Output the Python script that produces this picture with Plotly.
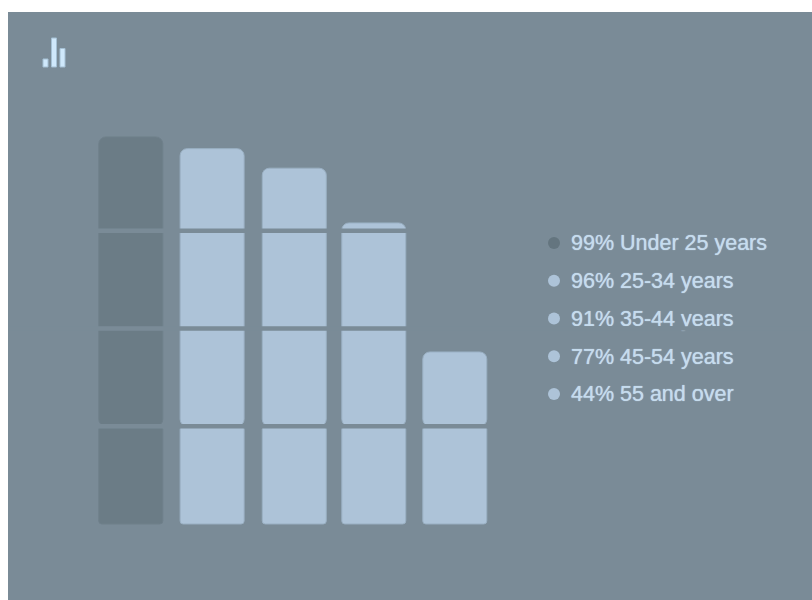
import plotly.graph_objects as go

# Share of respondents by age group
age_groups = ["Under 25 years", "25-34 years", "35-44 years", "45-54 years", "55 and over"]
percentages = [99, 96, 91, 77, 44]
band_edges = [25, 50, 75]

PANEL = "#7a8b97"
BAR_LIGHT = "#adc3d8"
BAR_DARK = "#6b7c86"
EDGE_LIGHT = "#9ab0c3"
EDGE_DARK = "#6f808b"
TEXT = "#c6dcee"
ICON = "#cfe8fb"

bar_colors = [BAR_DARK] + [BAR_LIGHT] * 4
edge_colors = [EDGE_DARK] + [EDGE_LIGHT] * 4
dot_colors = ["#64757f"] + [BAR_LIGHT] * 4
labels = [f"{p}% {g}" for p, g in zip(percentages, age_groups)]

WIDTH, HEIGHT = 812, 600
BAR_WIDTH = 0.79
# Slight per-column nudge, in category units
nudges = [0.004, 0.008, 0.022, 0.004, 0.004]
bar_offsets = [n - BAR_WIDTH / 2 for n in nudges]

fig = go.Figure()

# Each column is two overlaid pieces so that both ends get their own rounding
pivot = band_edges[0]
fig.add_bar(
    x=age_groups, base=[pivot] * 5, y=[p - pivot for p in percentages],
    marker=dict(color=bar_colors, line=dict(color=edge_colors, width=1), cornerradius=7),
    width=BAR_WIDTH, offset=bar_offsets, hoverinfo="skip", showlegend=False,
)
fig.add_bar(
    x=age_groups, base=[pivot] * 5, y=[-pivot] * 5,
    marker=dict(color=bar_colors, line=dict(color=edge_colors, width=1), cornerradius=3),
    width=BAR_WIDTH, offset=bar_offsets, hoverinfo="skip", showlegend=False,
)

# Key on its own overlaid axes, one row per group
rows = list(range(len(labels)))
fig.add_scatter(
    x=[0] * 5, y=rows, xaxis="x2", yaxis="y2", mode="markers",
    marker=dict(size=12, color=dot_colors), hoverinfo="skip", showlegend=False,
)
fig.add_scatter(
    x=[17] * 5, y=[r + 0.05 for r in rows], xaxis="x2", yaxis="y2", mode="text", text=labels,
    textposition="middle right",
    textfont=dict(family="Liberation Sans", size=21.5, color=TEXT, shadow=f"0 0 1px {TEXT}"),
    hoverinfo="skip", showlegend=False,
)

shapes = [
    dict(type="line", xref="paper", x0=0, x1=1, yref="y", y0=v, y1=v,
         line=dict(color=PANEL, width=4.6), layer="above")
    for v in band_edges
]

# Small bar-chart glyph in the top-left corner
def px_x(v):
    return (v - 8) / (WIDTH - 8)

def px_y(v):
    return (HEIGHT - v) / (HEIGHT - 12)

for x0, x1, top in [(43, 48, 59), (51.5, 56.5, 38), (60, 65, 48.5)]:
    shapes.append(dict(type="rect", xref="paper", yref="paper",
                       x0=px_x(x0), x1=px_x(x1), y0=px_y(67), y1=px_y(top),
                       fillcolor=ICON, line=dict(color="#a5c0d4", width=1)))

fig.update_layout(
    width=WIDTH, height=HEIGHT,
    margin=dict(l=8, r=0, t=12, b=0, autoexpand=False),
    paper_bgcolor="#ffffff", plot_bgcolor=PANEL,
    barmode="overlay", showlegend=False, shapes=shapes,
    xaxis=dict(visible=False, type="category", range=[-1.512, 8.414], fixedrange=True),
    yaxis=dict(visible=False, range=[-19.44, 130.95], fixedrange=True),
    xaxis2=dict(visible=False, overlaying="x", range=[-546, 258], fixedrange=True),
    yaxis2=dict(visible=False, overlaying="y", range=[(600 - 243) / 37.75, (12 - 243) / 37.75],
                fixedrange=True),
)
fig.write_html("out.html", config=dict(displayModeBar=False))
